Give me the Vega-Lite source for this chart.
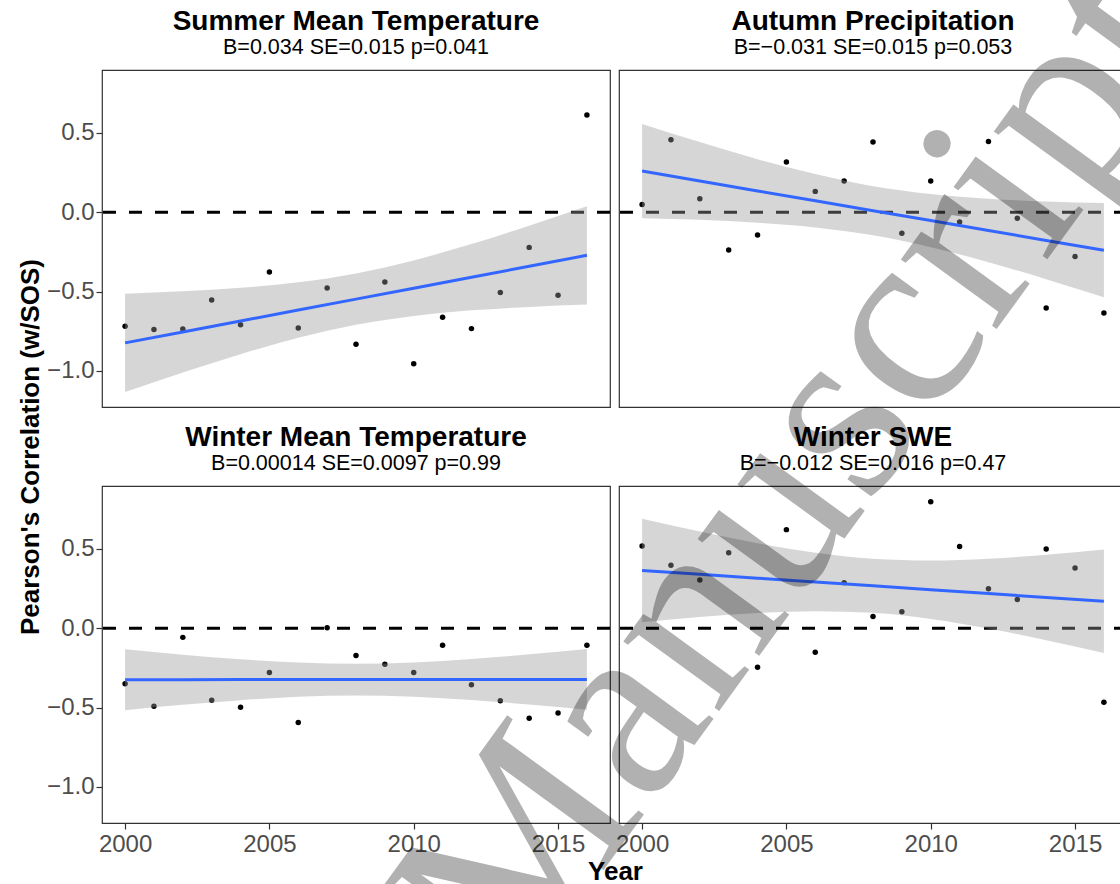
{
  "$schema": "https://vega.github.io/schema/vega-lite/v6.json",
  "padding": {"left": 17, "top": -79, "right": 0, "bottom": 0},
  "background": "white",
  "columns": 2,
  "bounds": "flush",
  "spacing": {"row": 79, "column": 9},
  "datasets": {
    "pts": [
      {"panel": "S", "year": 2000, "r": -0.718}, {"panel": "S", "year": 2001, "r": -0.739}, {"panel": "S", "year": 2002, "r": -0.735}, {"panel": "S", "year": 2003, "r": -0.552}, {"panel": "S", "year": 2004, "r": -0.708}, {"panel": "S", "year": 2005, "r": -0.376}, {"panel": "S", "year": 2006, "r": -0.729}, {"panel": "S", "year": 2007, "r": -0.477}, {"panel": "S", "year": 2008, "r": -0.832}, {"panel": "S", "year": 2009, "r": -0.439}, {"panel": "S", "year": 2010, "r": -0.954}, {"panel": "S", "year": 2011, "r": -0.662}, {"panel": "S", "year": 2012, "r": -0.733}, {"panel": "S", "year": 2013, "r": -0.506}, {"panel": "S", "year": 2014, "r": -0.221}, {"panel": "S", "year": 2015, "r": -0.523}, {"panel": "S", "year": 2016, "r": 0.613},
      {"panel": "A", "year": 2000, "r": 0.050}, {"panel": "A", "year": 2001, "r": 0.458}, {"panel": "A", "year": 2002, "r": 0.086}, {"panel": "A", "year": 2003, "r": -0.237}, {"panel": "A", "year": 2004, "r": -0.143}, {"panel": "A", "year": 2005, "r": 0.317}, {"panel": "A", "year": 2006, "r": 0.132}, {"panel": "A", "year": 2007, "r": 0.197}, {"panel": "A", "year": 2008, "r": 0.443}, {"panel": "A", "year": 2009, "r": -0.132}, {"panel": "A", "year": 2010, "r": 0.197}, {"panel": "A", "year": 2011, "r": -0.061}, {"panel": "A", "year": 2012, "r": 0.447}, {"panel": "A", "year": 2013, "r": -0.038}, {"panel": "A", "year": 2014, "r": -0.603}, {"panel": "A", "year": 2015, "r": -0.279}, {"panel": "A", "year": 2016, "r": -0.634},
      {"panel": "W", "year": 2000, "r": -0.350}, {"panel": "W", "year": 2001, "r": -0.491}, {"panel": "W", "year": 2002, "r": -0.057}, {"panel": "W", "year": 2003, "r": -0.454}, {"panel": "W", "year": 2004, "r": -0.498}, {"panel": "W", "year": 2005, "r": -0.279}, {"panel": "W", "year": 2006, "r": -0.594}, {"panel": "W", "year": 2007, "r": 0.004}, {"panel": "W", "year": 2008, "r": -0.172}, {"panel": "W", "year": 2009, "r": -0.227}, {"panel": "W", "year": 2010, "r": -0.279}, {"panel": "W", "year": 2011, "r": -0.107}, {"panel": "W", "year": 2012, "r": -0.355}, {"panel": "W", "year": 2013, "r": -0.456}, {"panel": "W", "year": 2014, "r": -0.567}, {"panel": "W", "year": 2015, "r": -0.533}, {"panel": "W", "year": 2016, "r": -0.107},
      {"panel": "SWE", "year": 2000, "r": 0.519}, {"panel": "SWE", "year": 2001, "r": 0.397}, {"panel": "SWE", "year": 2002, "r": 0.305}, {"panel": "SWE", "year": 2003, "r": 0.477}, {"panel": "SWE", "year": 2004, "r": -0.246}, {"panel": "SWE", "year": 2005, "r": 0.622}, {"panel": "SWE", "year": 2006, "r": -0.151}, {"panel": "SWE", "year": 2007, "r": 0.288}, {"panel": "SWE", "year": 2008, "r": 0.074}, {"panel": "SWE", "year": 2009, "r": 0.105}, {"panel": "SWE", "year": 2010, "r": 0.798}, {"panel": "SWE", "year": 2011, "r": 0.515}, {"panel": "SWE", "year": 2012, "r": 0.250}, {"panel": "SWE", "year": 2013, "r": 0.181}, {"panel": "SWE", "year": 2014, "r": 0.500}, {"panel": "SWE", "year": 2015, "r": 0.380}, {"panel": "SWE", "year": 2016, "r": -0.466}
    ],
    "fit": [
      {"panel": "S", "year": 2000, "lo": -1.133, "hi": -0.513, "fit": -0.823}, {"panel": "S", "year": 2002, "lo": -1.010, "hi": -0.498, "fit": -0.754}, {"panel": "S", "year": 2004, "lo": -0.894, "hi": -0.476, "fit": -0.685}, {"panel": "S", "year": 2006, "lo": -0.791, "hi": -0.441, "fit": -0.616}, {"panel": "S", "year": 2008, "lo": -0.709, "hi": -0.385, "fit": -0.547}, {"panel": "S", "year": 2010, "lo": -0.653, "hi": -0.303, "fit": -0.478}, {"panel": "S", "year": 2012, "lo": -0.618, "hi": -0.200, "fit": -0.409}, {"panel": "S", "year": 2014, "lo": -0.596, "hi": -0.084, "fit": -0.340}, {"panel": "S", "year": 2016, "lo": -0.581, "hi": 0.039, "fit": -0.271},
      {"panel": "A", "year": 2000, "lo": -0.037, "hi": 0.557, "fit": 0.260}, {"panel": "A", "year": 2002, "lo": -0.047, "hi": 0.443, "fit": 0.198}, {"panel": "A", "year": 2004, "lo": -0.065, "hi": 0.335, "fit": 0.135}, {"panel": "A", "year": 2006, "lo": -0.095, "hi": 0.241, "fit": 0.073}, {"panel": "A", "year": 2008, "lo": -0.145, "hi": 0.165, "fit": 0.010}, {"panel": "A", "year": 2010, "lo": -0.220, "hi": 0.116, "fit": -0.052}, {"panel": "A", "year": 2012, "lo": -0.314, "hi": 0.086, "fit": -0.114}, {"panel": "A", "year": 2014, "lo": -0.422, "hi": 0.068, "fit": -0.177}, {"panel": "A", "year": 2016, "lo": -0.536, "hi": 0.058, "fit": -0.239},
      {"panel": "W", "year": 2000, "lo": -0.516, "hi": -0.132, "fit": -0.324}, {"panel": "W", "year": 2002, "lo": -0.482, "hi": -0.166, "fit": -0.324}, {"panel": "W", "year": 2004, "lo": -0.453, "hi": -0.195, "fit": -0.323}, {"panel": "W", "year": 2006, "lo": -0.431, "hi": -0.215, "fit": -0.323}, {"panel": "W", "year": 2008, "lo": -0.423, "hi": -0.223, "fit": -0.323}, {"panel": "W", "year": 2010, "lo": -0.431, "hi": -0.215, "fit": -0.323}, {"panel": "W", "year": 2012, "lo": -0.451, "hi": -0.193, "fit": -0.322}, {"panel": "W", "year": 2014, "lo": -0.480, "hi": -0.164, "fit": -0.322}, {"panel": "W", "year": 2016, "lo": -0.514, "hi": -0.130, "fit": -0.322},
      {"panel": "SWE", "year": 2000, "lo": 0.039, "hi": 0.691, "fit": 0.365}, {"panel": "SWE", "year": 2002, "lo": 0.072, "hi": 0.610, "fit": 0.341}, {"panel": "SWE", "year": 2004, "lo": 0.096, "hi": 0.536, "fit": 0.316}, {"panel": "SWE", "year": 2006, "lo": 0.108, "hi": 0.476, "fit": 0.292}, {"panel": "SWE", "year": 2008, "lo": 0.098, "hi": 0.438, "fit": 0.268}, {"panel": "SWE", "year": 2010, "lo": 0.059, "hi": 0.427, "fit": 0.243}, {"panel": "SWE", "year": 2012, "lo": -0.001, "hi": 0.439, "fit": 0.219}, {"panel": "SWE", "year": 2014, "lo": -0.075, "hi": 0.463, "fit": 0.194}, {"panel": "SWE", "year": 2016, "lo": -0.156, "hi": 0.496, "fit": 0.170}
    ]
  },
  "concat": [
    {
      "width": 508, "height": 337,
      "layer": [
        {"data": {"values": [{}]}, "mark": {"type": "rule", "strokeDash": [13, 13], "strokeWidth": 3, "color": "black"},
         "encoding": {"y": {"datum": 0, "type": "quantitative", "scale": {"domain": [-1.227, 0.897], "nice": false, "zero": false}, "axis": {"values": [-1, -0.5, 0, 0.5], "format": ".1f", "title": "Pearson's Correlation (w/SOS)", "titleY": 376.5, "titlePadding": 3}}}},
        {"data": {"name": "pts"}, "transform": [{"filter": "datum.panel === 'S'"}], "mark": {"type": "circle", "size": 30, "color": "black", "opacity": 1},
         "encoding": {"x": {"field": "year", "type": "quantitative", "scale": {"domain": [1999.2, 2016.8], "nice": false, "zero": false}, "axis": null},
                      "y": {"field": "r", "type": "quantitative", "scale": {"domain": [-1.227, 0.897], "nice": false, "zero": false}, "axis": {"values": [-1, -0.5, 0, 0.5], "format": ".1f", "title": "Pearson's Correlation (w/SOS)", "titleY": 376.5, "titlePadding": 3}}}},
        {"data": {"name": "fit"}, "transform": [{"filter": "datum.panel === 'S'"}], "mark": {"type": "area", "color": "#999999", "opacity": 0.4, "interpolate": "monotone"},
         "encoding": {"x": {"field": "year", "type": "quantitative"}, "y": {"field": "lo", "type": "quantitative"}, "y2": {"field": "hi"}}},
        {"data": {"name": "fit"}, "transform": [{"filter": "datum.panel === 'S'"}], "mark": {"type": "line", "color": "#3366FF", "strokeWidth": 3},
         "encoding": {"x": {"field": "year", "type": "quantitative"}, "y": {"field": "fit", "type": "quantitative"}}},
        {"data": {"values": [{"t": "Summer Mean Temperature"}]}, "mark": {"type": "text", "font": "Liberation Sans", "fontSize": 28, "fontWeight": "bold", "color": "black", "align": "center", "baseline": "alphabetic"},
         "encoding": {"text": {"field": "t"}, "x": {"datum": 2008, "type": "quantitative"}, "y": {"datum": 1.149, "type": "quantitative"}}},
        {"data": {"values": [{"t": "B=0.034 SE=0.015 p=0.041"}]}, "mark": {"type": "text", "font": "Liberation Sans", "fontSize": 21.5, "color": "black", "align": "center", "baseline": "alphabetic"},
         "encoding": {"text": {"field": "t"}, "x": {"datum": 2008, "type": "quantitative"}, "y": {"datum": 0.996, "type": "quantitative"}}}
      ]
    },
    {
      "width": 508, "height": 337,
      "layer": [
        {"data": {"values": [{}]}, "mark": {"type": "rule", "strokeDash": [13, 13], "strokeWidth": 3, "color": "black"},
         "encoding": {"y": {"datum": 0, "type": "quantitative", "scale": {"domain": [-1.227, 0.897], "nice": false, "zero": false}, "axis": null}}},
        {"data": {"name": "pts"}, "transform": [{"filter": "datum.panel === 'A'"}], "mark": {"type": "circle", "size": 30, "color": "black", "opacity": 1},
         "encoding": {"x": {"field": "year", "type": "quantitative", "scale": {"domain": [1999.2, 2016.8], "nice": false, "zero": false}, "axis": null},
                      "y": {"field": "r", "type": "quantitative", "scale": {"domain": [-1.227, 0.897], "nice": false, "zero": false}, "axis": null}}},
        {"data": {"name": "fit"}, "transform": [{"filter": "datum.panel === 'A'"}], "mark": {"type": "area", "color": "#999999", "opacity": 0.4, "interpolate": "monotone"},
         "encoding": {"x": {"field": "year", "type": "quantitative"}, "y": {"field": "lo", "type": "quantitative"}, "y2": {"field": "hi"}}},
        {"data": {"name": "fit"}, "transform": [{"filter": "datum.panel === 'A'"}], "mark": {"type": "line", "color": "#3366FF", "strokeWidth": 3},
         "encoding": {"x": {"field": "year", "type": "quantitative"}, "y": {"field": "fit", "type": "quantitative"}}},
        {"data": {"values": [{"t": "Autumn Precipitation"}]}, "mark": {"type": "text", "font": "Liberation Sans", "fontSize": 28, "fontWeight": "bold", "color": "black", "align": "center", "baseline": "alphabetic"},
         "encoding": {"text": {"field": "t"}, "x": {"datum": 2008, "type": "quantitative"}, "y": {"datum": 1.149, "type": "quantitative"}}},
        {"data": {"values": [{"t": "B=−0.031 SE=0.015 p=0.053"}]}, "mark": {"type": "text", "font": "Liberation Sans", "fontSize": 21.5, "color": "black", "align": "center", "baseline": "alphabetic"},
         "encoding": {"text": {"field": "t"}, "x": {"datum": 2008, "type": "quantitative"}, "y": {"datum": 0.996, "type": "quantitative"}}}
      ]
    },
    {
      "width": 508, "height": 337,
      "layer": [
        {"data": {"values": [{}]}, "mark": {"type": "rule", "strokeDash": [13, 13], "strokeWidth": 3, "color": "black"},
         "encoding": {"y": {"datum": 0, "type": "quantitative", "scale": {"domain": [-1.227, 0.897], "nice": false, "zero": false}, "axis": {"values": [-1, -0.5, 0, 0.5], "format": ".1f", "title": null}}}},
        {"data": {"name": "pts"}, "transform": [{"filter": "datum.panel === 'W'"}], "mark": {"type": "circle", "size": 30, "color": "black", "opacity": 1},
         "encoding": {"x": {"field": "year", "type": "quantitative", "scale": {"domain": [1999.2, 2016.8], "nice": false, "zero": false}, "axis": {"values": [2000, 2005, 2010, 2015], "format": "d", "labelPadding": 3, "title": "Year", "titleX": 513, "titlePadding": 2}},
                      "y": {"field": "r", "type": "quantitative", "scale": {"domain": [-1.227, 0.897], "nice": false, "zero": false}, "axis": {"values": [-1, -0.5, 0, 0.5], "format": ".1f", "title": null}}}},
        {"data": {"name": "fit"}, "transform": [{"filter": "datum.panel === 'W'"}], "mark": {"type": "area", "color": "#999999", "opacity": 0.4, "interpolate": "monotone"},
         "encoding": {"x": {"field": "year", "type": "quantitative"}, "y": {"field": "lo", "type": "quantitative"}, "y2": {"field": "hi"}}},
        {"data": {"name": "fit"}, "transform": [{"filter": "datum.panel === 'W'"}], "mark": {"type": "line", "color": "#3366FF", "strokeWidth": 3},
         "encoding": {"x": {"field": "year", "type": "quantitative"}, "y": {"field": "fit", "type": "quantitative"}}},
        {"data": {"values": [{"t": "Winter Mean Temperature"}]}, "mark": {"type": "text", "font": "Liberation Sans", "fontSize": 28, "fontWeight": "bold", "color": "black", "align": "center", "baseline": "alphabetic"},
         "encoding": {"text": {"field": "t"}, "x": {"datum": 2008, "type": "quantitative"}, "y": {"datum": 1.149, "type": "quantitative"}}},
        {"data": {"values": [{"t": "B=0.00014 SE=0.0097 p=0.99"}]}, "mark": {"type": "text", "font": "Liberation Sans", "fontSize": 21.5, "color": "black", "align": "center", "baseline": "alphabetic"},
         "encoding": {"text": {"field": "t"}, "x": {"datum": 2008, "type": "quantitative"}, "y": {"datum": 0.996, "type": "quantitative"}}}
      ]
    },
    {
      "width": 508, "height": 337,
      "layer": [
        {"data": {"values": [{}]}, "mark": {"type": "rule", "strokeDash": [13, 13], "strokeWidth": 3, "color": "black"},
         "encoding": {"y": {"datum": 0, "type": "quantitative", "scale": {"domain": [-1.227, 0.897], "nice": false, "zero": false}, "axis": null}}},
        {"data": {"name": "pts"}, "transform": [{"filter": "datum.panel === 'SWE'"}], "mark": {"type": "circle", "size": 30, "color": "black", "opacity": 1},
         "encoding": {"x": {"field": "year", "type": "quantitative", "scale": {"domain": [1999.2, 2016.8], "nice": false, "zero": false}, "axis": {"values": [2000, 2005, 2010, 2015], "format": "d", "labelPadding": 3, "title": null}},
                      "y": {"field": "r", "type": "quantitative", "scale": {"domain": [-1.227, 0.897], "nice": false, "zero": false}, "axis": null}}},
        {"data": {"name": "fit"}, "transform": [{"filter": "datum.panel === 'SWE'"}], "mark": {"type": "area", "color": "#999999", "opacity": 0.4, "interpolate": "monotone"},
         "encoding": {"x": {"field": "year", "type": "quantitative"}, "y": {"field": "lo", "type": "quantitative"}, "y2": {"field": "hi"}}},
        {"data": {"name": "fit"}, "transform": [{"filter": "datum.panel === 'SWE'"}], "mark": {"type": "line", "color": "#3366FF", "strokeWidth": 3},
         "encoding": {"x": {"field": "year", "type": "quantitative"}, "y": {"field": "fit", "type": "quantitative"}}},
        {"data": {"values": [{"t": "Winter SWE"}]}, "mark": {"type": "text", "font": "Liberation Sans", "fontSize": 28, "fontWeight": "bold", "color": "black", "align": "center", "baseline": "alphabetic"},
         "encoding": {"text": {"field": "t"}, "x": {"datum": 2008, "type": "quantitative"}, "y": {"datum": 1.149, "type": "quantitative"}}},
        {"data": {"values": [{"t": "B=−0.012 SE=0.016 p=0.47"}]}, "mark": {"type": "text", "font": "Liberation Sans", "fontSize": 21.5, "color": "black", "align": "center", "baseline": "alphabetic"},
         "encoding": {"text": {"field": "t"}, "x": {"datum": 2008, "type": "quantitative"}, "y": {"datum": 0.996, "type": "quantitative"}}},
        {"data": {"values": [{"t": "Manuscript"}]}, "mark": {"type": "text", "font": "Liberation Serif", "fontSize": 258, "angle": -54, "align": "center", "baseline": "alphabetic", "color": "black", "opacity": 0.3},
         "encoding": {"text": {"field": "t"}, "x": {"datum": 2007.51, "type": "quantitative"}, "y": {"datum": 0.691, "type": "quantitative"}}}
      ]
    }
  ],
  "config": {
    "view": {"stroke": "#333333", "strokeWidth": 1.2},
    "axis": {"grid": false, "domain": false, "labelFont": "Liberation Sans", "labelFontSize": 24, "labelColor": "#4d4d4d", "tickColor": "#333333", "tickSize": 6, "tickWidth": 1.2, "labelPadding": 2, "titleFont": "Liberation Sans", "titleFontSize": 26, "titleFontWeight": "bold", "titleColor": "#000000"}
  }
}
